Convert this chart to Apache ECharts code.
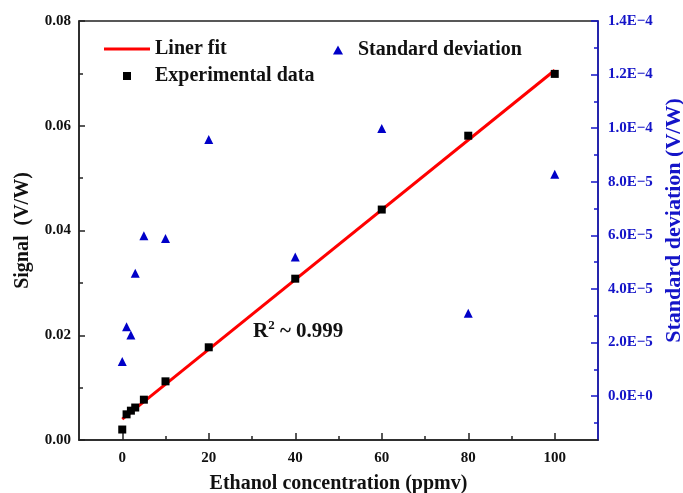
<!DOCTYPE html>
<html>
<head>
<meta charset="utf-8">
<script src="https://cdn.jsdelivr.net/npm/echarts@6/dist/echarts.min.js"></script>
<style>html,body{margin:0;padding:0;background:#fff;overflow:hidden;}#chart{width:683px;height:493px;}</style>
</head>
<body>
<div id="chart"></div>
<script>
// ---- data ----
var concentration = [0, 1, 2, 3, 5, 10, 20, 40, 60, 80, 100];
var signal = [0.0020, 0.0049, 0.0056, 0.0062, 0.0077, 0.0112, 0.0177, 0.0308, 0.0440, 0.0581, 0.0699];
var stdDev = [1.29e-5, 2.59e-5, 2.28e-5, 4.58e-5, 5.98e-5, 5.88e-5, 9.58e-5, 5.19e-5, 9.99e-5, 3.09e-5, 8.28e-5];
var fitX = [0, 100];
var fitY = [0.0040, 0.0706];

var xTickValues = [0, 20, 40, 60, 80, 100];
var xTickLabels = ['0', '20', '40', '60', '80', '100'];
var xMinorValues = [10, 30, 50, 70, 90];
var leftTickValues = [0, 0.02, 0.04, 0.06, 0.08];
var leftTickLabels = ['0.00', '0.02', '0.04', '0.06', '0.08'];
var rightTickValues = [0, 2e-5, 4e-5, 6e-5, 8e-5, 1e-4, 1.2e-4, 1.4e-4];
var rightTickLabels = ['0.0E+0', '2.0E\u22125', '4.0E\u22125', '6.0E\u22125', '8.0E\u22125', '1.0E\u22124', '1.2E\u22124', '1.4E\u22124'];
var rightMinorValues = [-1e-5, 1e-5, 3e-5, 5e-5, 7e-5, 9e-5, 1.1e-4, 1.3e-4];

function pairs(xs, ys) { return xs.map(function (x, i) { return [x, ys[i]]; }); }
function lookup(values, labels) {
  return function (v) {
    for (var i = 0; i < values.length; i++) {
      if (Math.abs(values[i] - v) < Math.abs(values[1] - values[0]) * 1e-3) return labels[i];
    }
    return '';
  };
}

var FONT = 'Liberation Serif';
var BLUE = '#1414c8';
var legendText = { fontFamily: FONT, fontWeight: 'bold', fontSize: 20, color: '#111', lineHeight: 20 };

var chart = echarts.init(document.getElementById('chart'), null, { renderer: 'canvas', width: 683, height: 493 });
chart.setOption({
  animation: false,
  backgroundColor: '#fff',
  grid: { left: 79, right: 85, top: 21, bottom: 53, outerBoundsMode: 'none', containLabel: false,
    show: true, borderColor: '#222', borderWidth: 1.5, backgroundColor: 'transparent' },
  legend: [
    {
      data: [{ name: 'Liner fit', icon: 'rect' }],
      left: 104, top: 39, itemWidth: 46, itemHeight: 3, padding: 0,
      textStyle: legendText
    },
    {
      data: [{ name: 'Experimental data', icon: 'rect' }],
      left: 123, top: 66, itemWidth: 8, itemHeight: 8, padding: 0,
      textStyle: Object.assign({}, legendText, { padding: [0, 0, 0, 19] })
    },
    {
      data: [{ name: 'Standard deviation', icon: 'triangle' }],
      left: 333, top: 40, itemWidth: 10, itemHeight: 9, padding: 0,
      textStyle: Object.assign({}, legendText, { padding: [0, 0, 0, 10] })
    }
  ],
  xAxis: [
    {
      type: 'value', min: -10, max: 110, position: 'bottom',
      name: 'Ethanol concentration (ppmv)', nameLocation: 'middle', nameGap: 34,
      nameTextStyle: { fontFamily: FONT, fontWeight: 'bold', fontSize: 20, color: '#111' },
      axisLine: { show: true, onZero: false, lineStyle: { color: '#222', width: 1.5 } },
      axisTick: { show: true, inside: true, length: 7, customValues: xTickValues, lineStyle: { color: '#222', width: 1.5 } },
      axisLabel: { show: true, customValues: xTickValues, formatter: lookup(xTickValues, xTickLabels), margin: 11,
        fontFamily: FONT, fontWeight: 'bold', fontSize: 15, color: '#111' },
      splitLine: { show: false }
    },
    {
      type: 'value', min: -10, max: 110, position: 'bottom',
      axisLine: { show: false, onZero: false },
      axisTick: { show: true, inside: true, length: 4, customValues: xMinorValues, lineStyle: { color: '#222', width: 1.5 } },
      axisLabel: { show: false },
      splitLine: { show: false }
    }
  ],
  yAxis: [
    {
      type: 'value', min: 0, max: 0.08, interval: 0.02, position: 'left',
      name: 'Signal  (V/W)', nameLocation: 'middle', nameGap: 46,
      nameTextStyle: { fontFamily: FONT, fontWeight: 'bold', fontSize: 20, color: '#111' },
      axisLine: { show: true, onZero: false, lineStyle: { color: '#222', width: 1.5 } },
      axisTick: { show: true, inside: true, length: 6, lineStyle: { color: '#222', width: 1.5 } },
      minorTick: { show: true, splitNumber: 2, length: 4, lineStyle: { color: '#222', width: 1.5 } },
      axisLabel: { formatter: lookup(leftTickValues, leftTickLabels), margin: 8,
        fontFamily: FONT, fontWeight: 'bold', fontSize: 15, color: '#111' },
      splitLine: { show: false }, minorSplitLine: { show: false }
    },
    {
      type: 'value', min: -1.64e-5, max: 1.4e-4, position: 'right',
      name: 'Standard deviation (V/W)', nameLocation: 'middle', nameGap: 64,
      nameTextStyle: { fontFamily: FONT, fontWeight: 'bold', fontSize: 22, color: BLUE, padding: [0, 0, 0, 20] },
      axisLine: { show: true, onZero: false, lineStyle: { color: BLUE, width: 1.5 } },
      axisTick: { show: true, inside: true, length: 7, customValues: rightTickValues, lineStyle: { color: BLUE, width: 1.5 } },
      axisLabel: { show: true, customValues: rightTickValues, formatter: lookup(rightTickValues, rightTickLabels), margin: 10,
        fontFamily: FONT, fontWeight: 'bold', fontSize: 15, color: BLUE },
      splitLine: { show: false }
    },
    {
      type: 'value', min: -1.64e-5, max: 1.4e-4, position: 'right',
      axisLine: { show: false, onZero: false },
      axisTick: { show: true, inside: true, length: 4, customValues: rightMinorValues, lineStyle: { color: BLUE, width: 1.5 } },
      axisLabel: { show: false },
      splitLine: { show: false }
    }
  ],
  graphic: [
    {
      type: 'text', left: 253, top: 319, z: 100,
      style: {
        text: '{a|R}{s|2}{a| ~ 0.999}',
        rich: {
          a: { fontFamily: FONT, fontWeight: 'bold', fontSize: 21, fill: '#111', verticalAlign: 'bottom' },
          s: { fontFamily: FONT, fontWeight: 'bold', fontSize: 13, fill: '#111', verticalAlign: 'top', padding: [0, 0, 10, 0] }
        }
      }
    }
  ],
  series: [
    {
      name: 'Liner fit', type: 'line', xAxisIndex: 0, yAxisIndex: 0,
      data: pairs(fitX, fitY), symbol: 'none', showSymbol: false,
      lineStyle: { color: '#ff0000', width: 3 }, itemStyle: { color: '#ff0000' }, z: 2
    },
    {
      name: 'Experimental data', type: 'scatter', xAxisIndex: 0, yAxisIndex: 0,
      data: pairs(concentration, signal), symbol: 'rect', symbolSize: 8,
      itemStyle: { color: '#000', opacity: 1 }, z: 3
    },
    {
      name: 'Standard deviation', type: 'scatter', xAxisIndex: 0, yAxisIndex: 1,
      data: pairs(concentration, stdDev), symbol: 'triangle', symbolSize: 9,
      itemStyle: { color: '#0000c8', opacity: 1 }, z: 3
    }
  ]
});
</script>
</body>
</html>
